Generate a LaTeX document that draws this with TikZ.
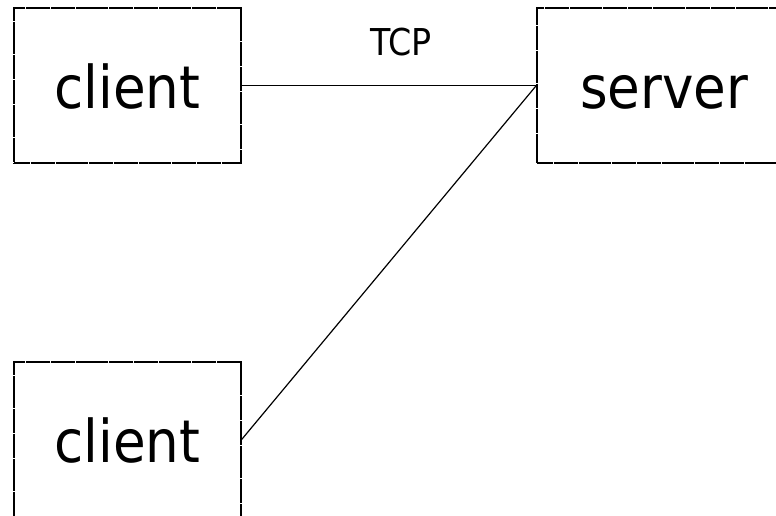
\documentclass[tikz,border=0pt]{standalone}
\usepackage{fontspec}
\setmainfont{DejaVu Sans Condensed}
\begin{document}
\begin{tikzpicture}[x=1pt,y=-1pt,
  host/.style={draw=black, line width=1.3pt, dash pattern=on 8pt off 0.3pt,
    minimum width=227pt, minimum height=155pt, inner sep=0pt,
    text height=45pt, text depth=0pt,
    font=\fontsize{59}{66}\selectfont},
  link/.style={draw=black, line width=1.2pt},
  lbl/.style={inner sep=0pt, font=\fontsize{37}{42}\selectfont}]
\useasboundingbox (0,0) rectangle (776,515);
\node[host] (c1) at (127.5,85.5) {client};
\node[host] (c2) at (127.5,439.5) {client};
\node[host, minimum width=254pt] (srv) at (664,85.5) {server};
\draw[link] (c1.east) -- node[lbl, pos=0.54, above=29pt] (tcp) {TCP} (srv.west);
\draw[link] (srv.west) -- (c2.east);
\end{tikzpicture}
\end{document}
